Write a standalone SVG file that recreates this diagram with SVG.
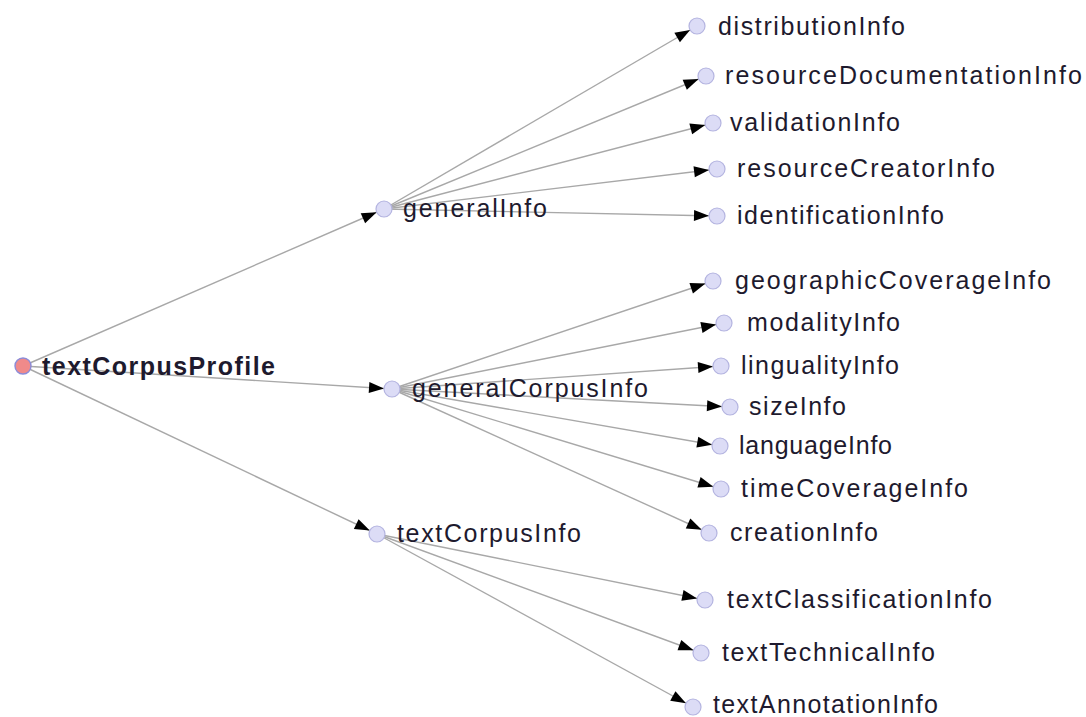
<svg xmlns="http://www.w3.org/2000/svg" width="1086" height="717" viewBox="0 0 1086 717">
<defs>
<marker id="arr" markerUnits="userSpaceOnUse" markerWidth="26" markerHeight="14" refX="23" refY="5.5" orient="auto" overflow="visible">
<path d="M0,0 L15,5.5 L0,11 z" fill="#000"/>
</marker>
<style>
.e{stroke:#a8a8a8;stroke-width:1.4;fill:none;marker-end:url(#arr)}
.n{fill:#dcdcf6;stroke:#b4b4e0;stroke-width:1.2}
.r{fill:#f08a8a;stroke:#8c8cd8;stroke-width:1.4}
.t{font-family:"Liberation Sans",Arial,sans-serif;font-size:25px;fill:#1e1a2e}
.b{font-weight:bold}
</style>
</defs>
<rect width="1086" height="717" fill="#fff"/>
<g id="connectors">
<line class="e" x1="23" y1="366" x2="384" y2="209"/>
<line class="e" x1="23" y1="366" x2="392" y2="389"/>
<line class="e" x1="23" y1="366" x2="377" y2="534"/>
<line class="e" x1="384" y1="209" x2="697" y2="26"/>
<line class="e" x1="384" y1="209" x2="706" y2="76"/>
<line class="e" x1="384" y1="209" x2="713" y2="123"/>
<line class="e" x1="384" y1="209" x2="717" y2="169"/>
<line class="e" x1="384" y1="209" x2="717" y2="216"/>
<line class="e" x1="392" y1="389" x2="713" y2="281"/>
<line class="e" x1="392" y1="389" x2="724" y2="323"/>
<line class="e" x1="392" y1="389" x2="721" y2="366"/>
<line class="e" x1="392" y1="389" x2="730" y2="407"/>
<line class="e" x1="392" y1="389" x2="720" y2="446"/>
<line class="e" x1="392" y1="389" x2="721" y2="489"/>
<line class="e" x1="392" y1="389" x2="709" y2="533"/>
<line class="e" x1="377" y1="534" x2="705" y2="600"/>
<line class="e" x1="377" y1="534" x2="701" y2="653"/>
<line class="e" x1="377" y1="534" x2="693" y2="707"/>
</g>
<g id="textCorpusProfile"><circle class="r" cx="23" cy="366" r="8"/><text class="t b" x="42" y="375" textLength="233" lengthAdjust="spacing">textCorpusProfile</text></g>
<g id="generalInfo"><circle class="n" cx="384" cy="209" r="8"/><text class="t" x="403" y="217" textLength="144" lengthAdjust="spacing">generalInfo</text></g>
<g id="generalCorpusInfo"><circle class="n" cx="392" cy="389" r="8"/><text class="t" x="412" y="397" textLength="236" lengthAdjust="spacing">generalCorpusInfo</text></g>
<g id="textCorpusInfo"><circle class="n" cx="377" cy="534" r="8"/><text class="t" x="397" y="542" textLength="184" lengthAdjust="spacing">textCorpusInfo</text></g>
<g id="distributionInfo"><circle class="n" cx="697" cy="26" r="8"/><text class="t" x="718" y="35" textLength="187" lengthAdjust="spacing">distributionInfo</text></g>
<g id="resourceDocumentationInfo"><circle class="n" cx="706" cy="76" r="8"/><text class="t" x="725" y="84" textLength="357" lengthAdjust="spacing">resourceDocumentationInfo</text></g>
<g id="validationInfo"><circle class="n" cx="713" cy="123" r="8"/><text class="t" x="730" y="131" textLength="170" lengthAdjust="spacing">validationInfo</text></g>
<g id="resourceCreatorInfo"><circle class="n" cx="717" cy="169" r="8"/><text class="t" x="737" y="177" textLength="258" lengthAdjust="spacing">resourceCreatorInfo</text></g>
<g id="identificationInfo"><circle class="n" cx="717" cy="216" r="8"/><text class="t" x="737" y="224" textLength="207" lengthAdjust="spacing">identificationInfo</text></g>
<g id="geographicCoverageInfo"><circle class="n" cx="713" cy="281" r="8"/><text class="t" x="735" y="289" textLength="316" lengthAdjust="spacing">geographicCoverageInfo</text></g>
<g id="modalityInfo"><circle class="n" cx="724" cy="323" r="8"/><text class="t" x="747" y="331" textLength="153" lengthAdjust="spacing">modalityInfo</text></g>
<g id="lingualityInfo"><circle class="n" cx="721" cy="366" r="8"/><text class="t" x="741" y="374" textLength="158" lengthAdjust="spacing">lingualityInfo</text></g>
<g id="sizeInfo"><circle class="n" cx="730" cy="407" r="8"/><text class="t" x="749" y="415" textLength="97" lengthAdjust="spacing">sizeInfo</text></g>
<g id="languageInfo"><circle class="n" cx="720" cy="446" r="8"/><text class="t" x="739" y="454" textLength="153" lengthAdjust="spacing">languageInfo</text></g>
<g id="timeCoverageInfo"><circle class="n" cx="721" cy="489" r="8"/><text class="t" x="741" y="497" textLength="227" lengthAdjust="spacing">timeCoverageInfo</text></g>
<g id="creationInfo"><circle class="n" cx="709" cy="533" r="8"/><text class="t" x="730" y="541" textLength="148" lengthAdjust="spacing">creationInfo</text></g>
<g id="textClassificationInfo"><circle class="n" cx="705" cy="600" r="8"/><text class="t" x="727" y="608" textLength="265" lengthAdjust="spacing">textClassificationInfo</text></g>
<g id="textTechnicalInfo"><circle class="n" cx="701" cy="653" r="8"/><text class="t" x="722" y="661" textLength="213" lengthAdjust="spacing">textTechnicalInfo</text></g>
<g id="textAnnotationInfo"><circle class="n" cx="693" cy="707" r="8"/><text class="t" x="713" y="713" textLength="225" lengthAdjust="spacing">textAnnotationInfo</text></g>
</svg>
